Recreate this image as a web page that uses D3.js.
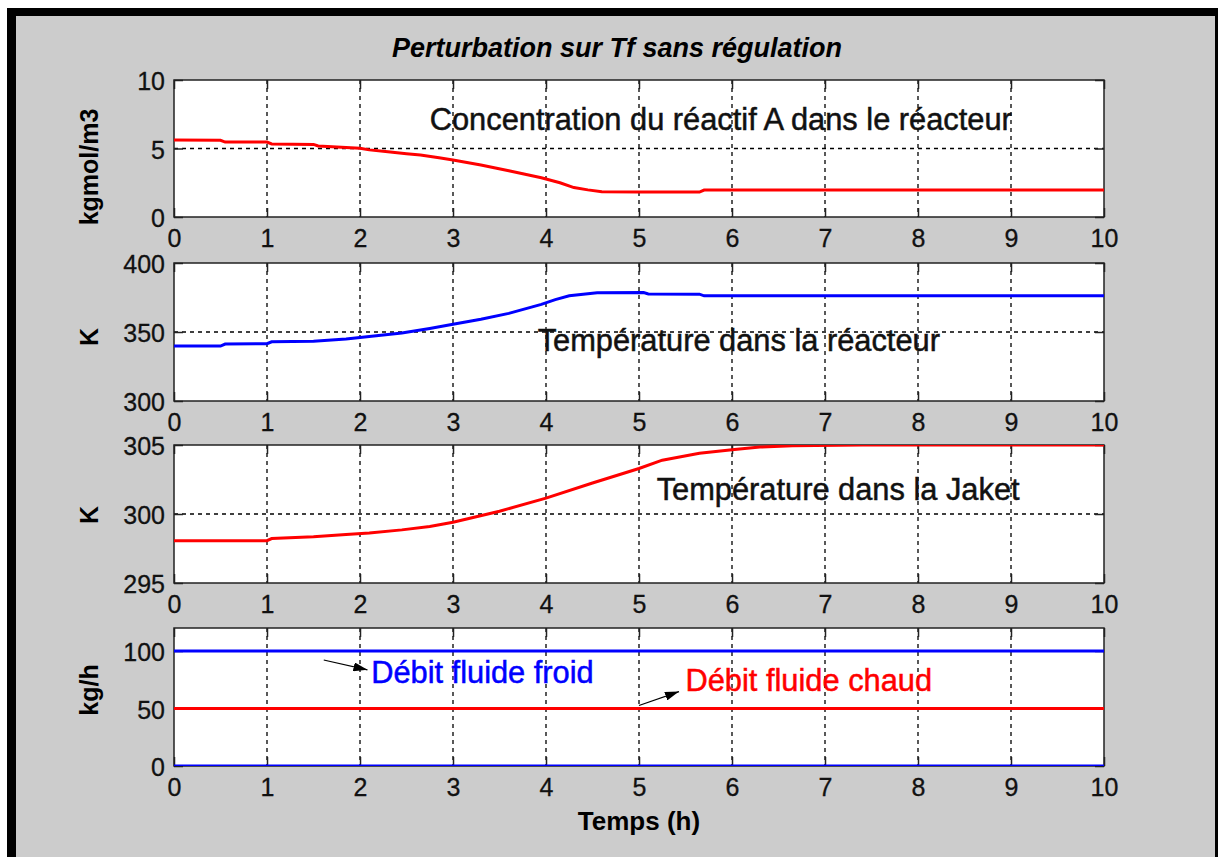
<!DOCTYPE html>
<html>
<head>
<meta charset="utf-8">
<script src="https://cdn.jsdelivr.net/npm/d3@7"></script>
<style>
  body { margin: 0; background: #fff; }
  svg text { font-family: "Liberation Sans", Arial, sans-serif; }
</style>
</head>
<body>
<script>
// time axis
var xTicks = [0, 1, 2, 3, 4, 5, 6, 7, 8, 9, 10];

// concentration of A in reactor (kgmol/m3)
var tConc = [0, 0.5, 0.55, 1.0, 1.05, 1.5, 1.55, 1.8, 2.0, 2.1, 2.3, 2.5, 2.65, 2.85, 3.0, 3.3, 3.6, 3.95, 4.15, 4.3, 4.45, 4.6, 5.0, 5.65, 5.7, 10];
var conc = [5.62, 5.6, 5.47, 5.47, 5.33, 5.3, 5.18, 5.1, 5.02, 4.9, 4.76, 4.62, 4.52, 4.32, 4.16, 3.8, 3.38, 2.86, 2.5, 2.15, 1.98, 1.85, 1.82, 1.82, 1.97, 1.97];

// reactor temperature (K)
var tReac = [0, 0.5, 0.55, 1.0, 1.05, 1.5, 1.85, 2.1, 2.45, 2.75, 3.0, 3.3, 3.6, 3.95, 4.1, 4.25, 4.55, 5.05, 5.1, 5.65, 5.7, 10];
var tempReac = [339.8, 339.8, 341.3, 341.5, 342.9, 343.3, 345.0, 346.8, 349.3, 352.6, 355.6, 359.2, 363.5, 370.0, 373.5, 376.2, 378.4, 378.6, 377.6, 377.4, 376.2, 376.2];

// jacket temperature (K)
var tJak = [0, 1.0, 1.05, 1.5, 1.85, 2.1, 2.45, 2.75, 3.0, 3.5, 4.0, 4.5, 5.0, 5.25, 5.65, 6.0, 6.3, 6.65, 7.4, 10];
var tempJak = [298.07, 298.07, 298.22, 298.35, 298.52, 298.62, 298.85, 299.1, 299.4, 300.2, 301.15, 302.25, 303.3, 303.9, 304.4, 304.65, 304.85, 304.95, 305.0, 305.0];

// flows (kg/h)
var tFlow = [0, 10];
var flowCold = [100, 100];
var flowHot = [50, 50];
var flowZero = [0, 0];

var panels = [
  { top: 80, bottom: 217, domain: [0, 10], ticks: [0, 5, 10], label: 'kgmol/m3', labelY: 167,
    series: [{ t: tConc, v: conc, color: '#ff0000' }] },
  { top: 263, bottom: 401, domain: [300, 400], ticks: [300, 350, 400], label: 'K', labelY: 337,
    series: [{ t: tReac, v: tempReac, color: '#0000ff' }] },
  { top: 445, bottom: 583, domain: [295, 305], ticks: [295, 300, 305], label: 'K', labelY: 515,
    series: [{ t: tJak, v: tempJak, color: '#ff0000' }] },
  { top: 628, bottom: 766, domain: [0, 120], ticks: [0, 50, 100], label: 'kg/h', labelY: 690,
    series: [{ t: tFlow, v: flowZero, color: '#0000ff' },
             { t: tFlow, v: flowCold, color: '#0000ff' },
             { t: tFlow, v: flowHot, color: '#ff0000' }] }
];

var notes = [
  { p: 0, t: 2.75, v: 6.35, text: 'Concentration du réactif A dans le réacteur', color: '#111' },
  { p: 1, t: 3.91, v: 336.2, text: 'Température dans la réacteur', color: '#111' },
  { p: 2, t: 5.19, v: 301.0, text: 'Température dans la Jaket', color: '#111' },
  { p: 3, t: 2.12, v: 72.4, text: 'Débit fluide froid', color: '#0000ff' },
  { p: 3, t: 5.5, v: 65.5, text: 'Débit fluide chaud', color: '#ff0000' }
];

var arrows = [
  { p: 3, t0: 1.61, v0: 92.2, t1: 2.08, v1: 83.6 },
  { p: 3, t0: 5.0, v0: 52.6, t1: 5.43, v1: 64.7 }
];

var svg = d3.select('body').append('svg')
    .attr('width', 1218)
    .attr('height', 857);

// figure frame
svg.append('rect').attr('x', 7).attr('y', 8).attr('width', 1211).attr('height', 849).attr('fill', '#000');
svg.append('rect').attr('x', 16).attr('y', 16).attr('width', 1199).attr('height', 841).attr('fill', '#cccccc');

var defs = svg.append('defs');
defs.append('marker')
    .attr('id', 'head')
    .attr('viewBox', '0 0 14 9')
    .attr('refX', 14).attr('refY', 4.5)
    .attr('markerWidth', 14).attr('markerHeight', 9)
    .attr('markerUnits', 'userSpaceOnUse')
    .attr('orient', 'auto')
    .append('path').attr('d', 'M0,0L14,4.5L0,9Z').attr('fill', '#000');

var x = d3.scaleLinear().domain([0, 10]).range([174, 1104]);

var ys = [];

panels.forEach(function(p, i) {
  var y = d3.scaleLinear().domain(p.domain).range([p.bottom, p.top]);
  ys.push(y);
  var g = svg.append('g');

  g.append('rect')
      .attr('x', x(0)).attr('y', p.top)
      .attr('width', x(10) - x(0)).attr('height', p.bottom - p.top)
      .attr('fill', '#fff');

  defs.append('clipPath').attr('id', 'clip' + i)
    .append('rect')
      .attr('x', x(0)).attr('y', p.top)
      .attr('width', x(10) - x(0)).attr('height', p.bottom - p.top);

  // grid
  g.selectAll('.gx').data(xTicks.slice(1, -1)).enter().append('line')
      .attr('x1', function(d) { return x(d); }).attr('x2', function(d) { return x(d); })
      .attr('y1', p.top).attr('y2', p.bottom)
      .attr('stroke', '#000').attr('stroke-width', 1.3).attr('stroke-dasharray', '4,4');
  g.selectAll('.gy').data(p.ticks.filter(function(d) { return d > p.domain[0] && d < p.domain[1]; })).enter().append('line')
      .attr('x1', x(0)).attr('x2', x(10))
      .attr('y1', function(d) { return y(d); }).attr('y2', function(d) { return y(d); })
      .attr('stroke', '#000').attr('stroke-width', 1.3).attr('stroke-dasharray', '4,4');

  // axes with inward ticks
  g.append('g').attr('transform', 'translate(0,' + p.bottom + ')')
      .call(d3.axisBottom(x).tickValues(xTicks).tickSizeInner(-9).tickSizeOuter(0).tickPadding(12).tickFormat(d3.format('d')));
  g.append('g').attr('transform', 'translate(0,' + p.top + ')')
      .call(d3.axisTop(x).tickValues(xTicks).tickSizeInner(-9).tickSizeOuter(0).tickFormat(''));
  var left = g.append('g').attr('transform', 'translate(' + x(0) + ',0)')
      .call(d3.axisLeft(y).tickValues(p.ticks).tickSizeInner(-9).tickSizeOuter(0).tickPadding(9).tickFormat(d3.format('d')));
  g.append('g').attr('transform', 'translate(' + x(10) + ',0)')
      .call(d3.axisRight(y).tickValues(p.ticks).tickSizeInner(-9).tickSizeOuter(0).tickFormat(''));

  g.selectAll('.domain').remove();
  g.selectAll('.tick line').attr('stroke', '#222').attr('stroke-width', 1.5);
  g.selectAll('.tick text').attr('font-size', 25).attr('fill', '#111')
      .attr('stroke', '#111').attr('stroke-width', 0.3)
      .attr('font-family', '"Liberation Sans", Arial, sans-serif');
  left.selectAll('.tick text').attr('dy', '0.38em');

  g.append('rect')
      .attr('x', x(0)).attr('y', p.top)
      .attr('width', x(10) - x(0)).attr('height', p.bottom - p.top)
      .attr('fill', 'none').attr('stroke', '#222').attr('stroke-width', 1.5);

  // data
  var line = d3.line()
      .x(function(d) { return x(d[0]); })
      .y(function(d) { return y(d[1]); });
  p.series.forEach(function(s) {
    g.append('path')
        .datum(d3.zip(s.t, s.v))
        .attr('clip-path', 'url(#clip' + i + ')')
        .attr('d', line)
        .attr('fill', 'none')
        .attr('stroke', s.color)
        .attr('stroke-width', 3);
  });

  // y label
  svg.append('text')
      .attr('transform', 'translate(98,' + p.labelY + ') rotate(-90)')
      .attr('text-anchor', 'middle')
      .attr('font-size', 25)
      .attr('font-weight', 'bold')
      .attr('fill', '#000')
      .text(p.label);
});

notes.forEach(function(n) {
  svg.append('text')
      .attr('x', x(n.t)).attr('y', ys[n.p](n.v))
      .attr('font-size', 30.8)
      .attr('fill', n.color)
      .attr('stroke', n.color).attr('stroke-width', 0.5)
      .text(n.text);
});

arrows.forEach(function(a) {
  svg.append('line')
      .attr('x1', x(a.t0)).attr('y1', ys[a.p](a.v0))
      .attr('x2', x(a.t1)).attr('y2', ys[a.p](a.v1))
      .attr('stroke', '#000').attr('stroke-width', 1.2)
      .attr('marker-end', 'url(#head)');
});

svg.append('text')
    .attr('x', 617).attr('y', 57)
    .attr('text-anchor', 'middle')
    .attr('font-size', 27)
    .attr('font-weight', 'bold')
    .attr('font-style', 'italic')
    .attr('fill', '#000')
    .text('Perturbation sur Tf sans régulation');

svg.append('text')
    .attr('x', 639).attr('y', 830)
    .attr('text-anchor', 'middle')
    .attr('font-size', 26)
    .attr('font-weight', 'bold')
    .attr('fill', '#000')
    .text('Temps (h)');
</script>
</body>
</html>
